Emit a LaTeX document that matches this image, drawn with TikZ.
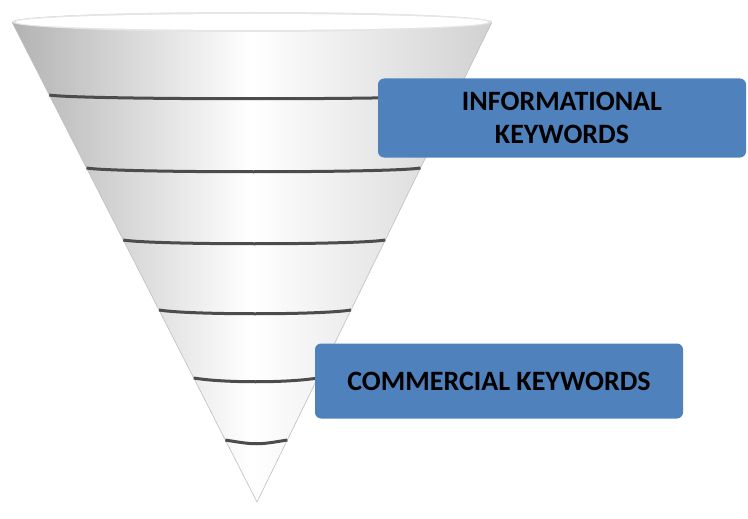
\documentclass[tikz,border=0pt]{standalone}
\usepackage{fontspec}
\setmainfont{Carlito}
\begin{document}
\begin{tikzpicture}[x=1pt,y=-1pt,
  band/.style={draw=black!70,line width=3pt},
  kbox/.style={draw=none,fill={rgb,255:red,79;green,129;blue,189},rounded corners=6pt,text=black,font=\bfseries\fontsize{28}{33}\selectfont,align=center,inner sep=0pt}]
\useasboundingbox (0,0) rectangle (748,519);
\coordinate (TL) at (12,22);
\coordinate (TR) at (492,22);
\coordinate (tip) at (257,502);
\shade[left color=black!30,right color=black!18,middle color=white] (TL) -- (tip) -- (TR) arc[start angle=0,end angle=-180,x radius=240,y radius=10] -- cycle;
\draw[black!25,line width=0.6pt] (TL) -- (tip) -- (TR);
\fill[black!10] (252,22) ellipse[x radius=240,y radius=10];
\fill[white] (252,22) ellipse[x radius=236,y radius=8];
\foreach \y in {95,168,240,310,378,440}{
  \pgfmathsetmacro\xl{12+(\y-22)/480*245}
  \pgfmathsetmacro\xr{492-(\y-22)/480*235}
  \draw[band] (\xl,\y) .. controls (\xl+30,\y+5) and (\xr-30,\y+5) .. (\xr,\y);
}
\node[kbox,minimum width=368pt,minimum height=79pt] (info) at (562,118) {INFORMATIONAL\\KEYWORDS};
\node[kbox,minimum width=368pt,minimum height=75pt] (comm) at (499,381) {COMMERCIAL KEYWORDS};
\end{tikzpicture}
\end{document}
